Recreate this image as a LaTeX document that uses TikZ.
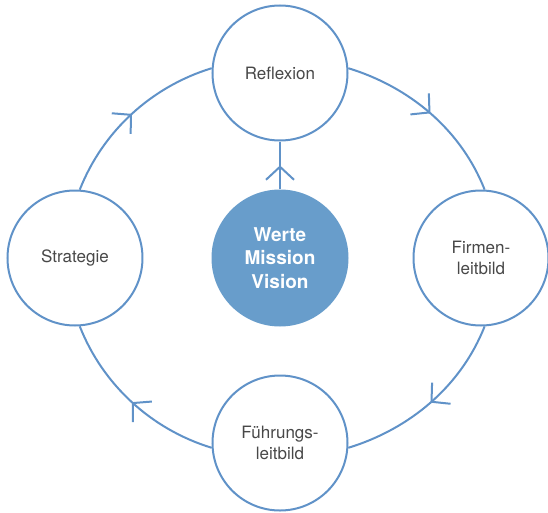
\documentclass[tikz,border=0pt]{standalone}
\usepackage{fontspec}
\setmainfont{TeX Gyre Heros}
\usepackage{tikz}
\usetikzlibrary{arrows.meta, decorations.markings}
\usepackage{xcolor}
\definecolor{ringblue}{RGB}{96,146,200}
\definecolor{coreblue}{RGB}{104,157,203}
\definecolor{labelgray}{RGB}{72,72,72}
\tikzset{ringnode/.style={circle, draw=ringblue, fill=white, line width=2pt, minimum size=135pt, inner sep=0pt, align=center, text=labelgray, font=\fontsize{17}{21}\selectfont}}

\begin{document}
\begin{tikzpicture}[
        corenode/.style={circle, fill=coreblue, minimum size=137pt, inner sep=0pt, align=center, text=white, font=\fontsize{19}{23.5}\selectfont\bfseries},
        midarrow/.style={ringblue, line width=2pt, postaction={decorate}, decoration={markings, mark=at position 0.5 with {\arrow[ringblue, line width=2pt]{Straight Barb[length=13pt, width=28pt]}}}}
    ]
        \useasboundingbox (-280pt, -254pt) rectangle (268pt, 258pt);
        % Nodes
        \node[corenode] (core) at (0pt, 0pt) {Werte\\Mission\\Vision};
        \node[ringnode] (refl) at (0pt, 185pt) {Reflexion};
        \node[ringnode] (firm) at (201pt, 0pt) {Firmen-\\leitbild};
        \node[ringnode] (fuhr) at (0pt, -185pt) {Führungs-\\leitbild};
        \node[ringnode] (strat) at (-205pt, 0pt) {Strategie};
        % Ring
        \foreach \a/\b/\o/\i in {
            refl.4/firm.87/-17/111.5,
            firm.-87/fuhr.-4/-111.5/17,
            fuhr.184/strat.-86/163/-68.5,
            strat.86/refl.176/68.5/-163} {
            \draw[midarrow] (\a) to[out=\o, in=\i, looseness=0.9] (\b);
        }
        % Center
        \draw[midarrow] (core.north) -- (refl.south);
    \end{tikzpicture}
\end{document}
